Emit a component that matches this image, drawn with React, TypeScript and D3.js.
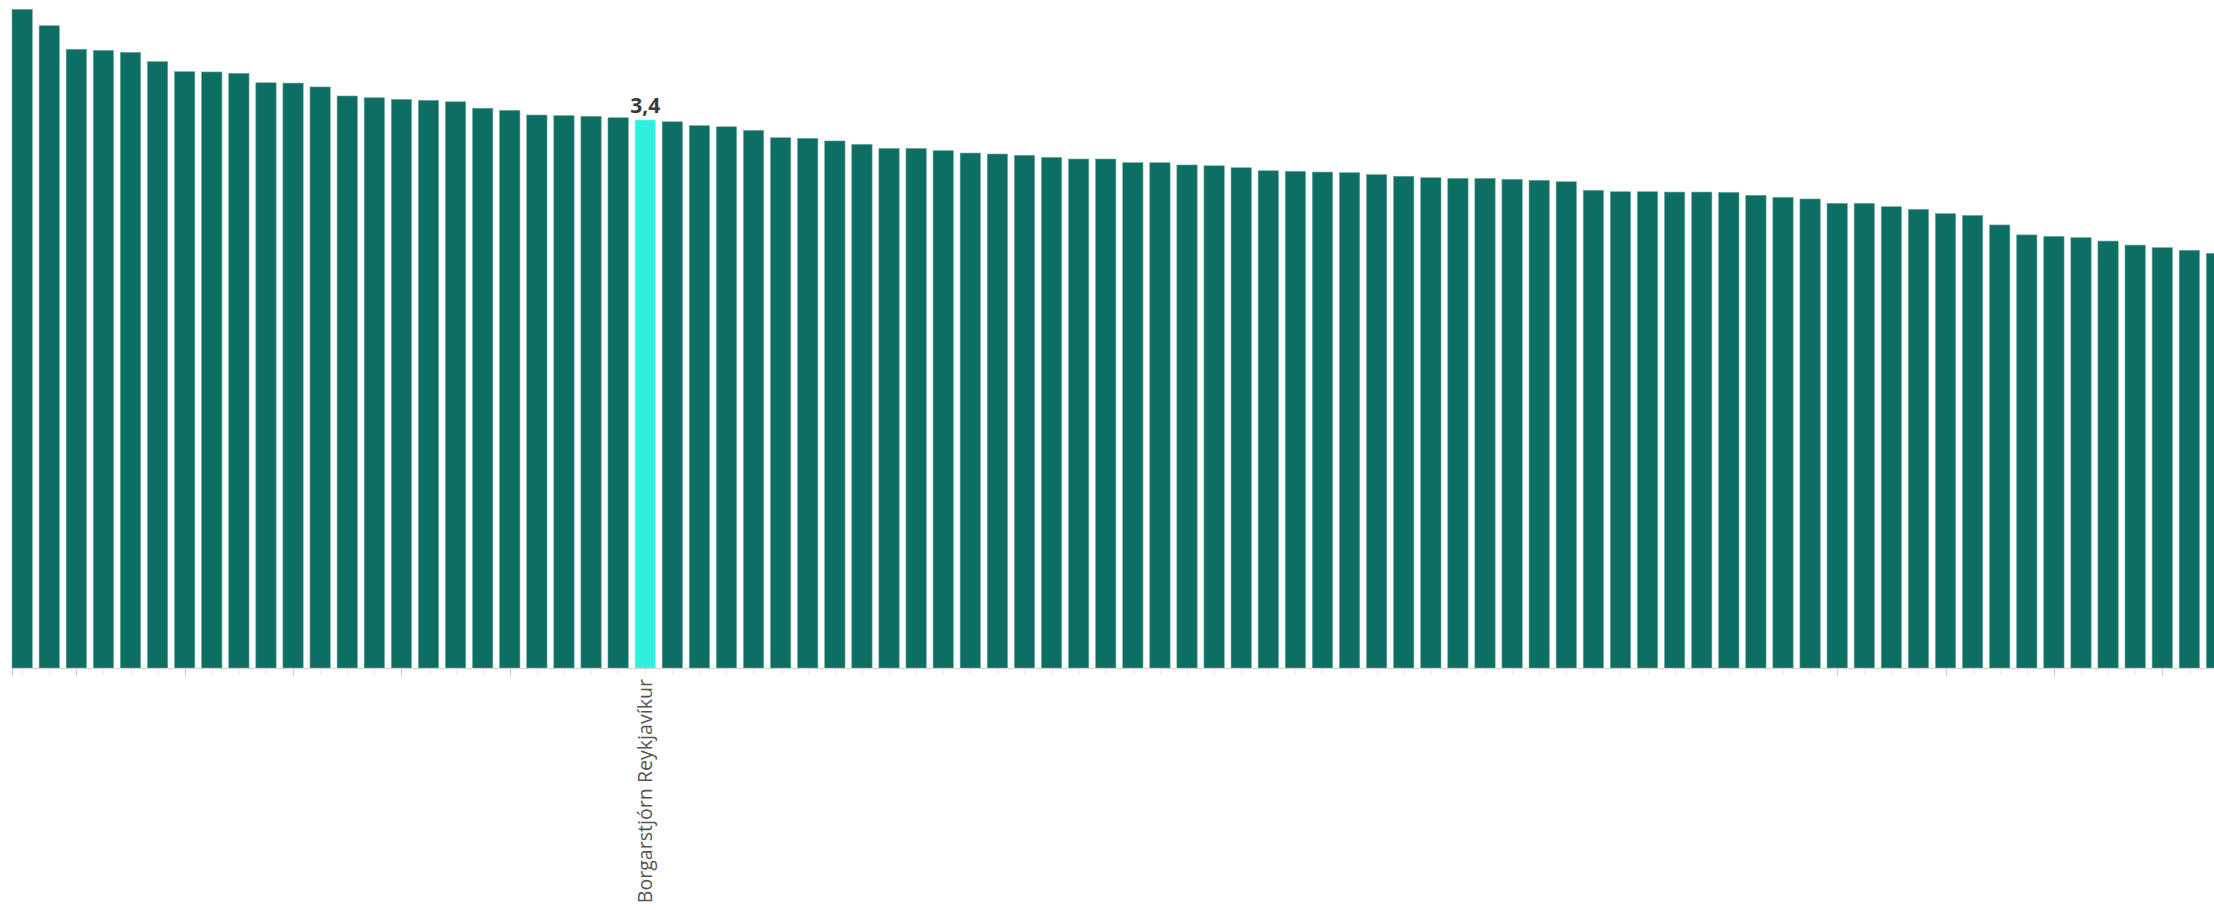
import React from "react";
import * as d3 from "d3";

const values: number[] = [
  4.087, 3.985, 3.839, 3.832, 3.82, 3.762, 3.7, 3.698, 3.69, 3.631,
  3.629, 3.605, 3.549, 3.538, 3.528, 3.522, 3.513, 3.473, 3.46, 3.431,
  3.427, 3.423, 3.414, 3.4, 3.389, 3.365, 3.358, 3.336, 3.29, 3.286,
  3.27, 3.249, 3.224, 3.224, 3.21, 3.195, 3.189, 3.181, 3.168, 3.158,
  3.158, 3.135, 3.135, 3.121, 3.116, 3.104, 3.085, 3.082, 3.077, 3.073,
  3.061, 3.051, 3.042, 3.038, 3.038, 3.032, 3.026, 3.017, 2.964, 2.955,
  2.955, 2.953, 2.953, 2.951, 2.933, 2.92, 2.91, 2.883, 2.883, 2.862,
  2.846, 2.819, 2.808, 2.749, 2.687, 2.678, 2.67, 2.649, 2.624, 2.608,
  2.592, 2.573,
];
const highlightIndex = 23;
const highlightName = "Borgarstjórn Reykjavíkur";
const highlightValueLabel = "3,4";
const majorTickIndices: number[] = [2, 6, 10, 14, 18, 67, 71, 75, 79];

const W = 2214;
const H = 910;
const X0 = 12;
const X1 = 2226.6;
const BASE = 668;
const TOP_AT_34 = 120;

export default function App() {
  const ids = values.map((_, i) => String(i));
  const x = d3.scaleBand<string>().domain(ids).range([X0, X1]).paddingInner(0.25).paddingOuter(0);
  const y = d3.scaleLinear().domain([0, 3.4]).range([BASE, TOP_AT_34]);
  const bw = x.bandwidth();
  const hx = (x(String(highlightIndex)) as number) + bw / 2;
  return (
    <svg width={W} height={H} style={{ position: "absolute", left: 0, top: 0, display: "block" }}>
      <rect x={0} y={0} width={W} height={H} fill="#fff" />
      {values.map((v, i) => (
        <rect
          key={i}
          x={x(String(i))}
          y={y(v)}
          width={bw}
          height={BASE - y(v)}
          fill={i === highlightIndex ? "#2ff0dc" : "#0d6e63"}
          stroke={i === highlightIndex ? "#8ff5ea" : "#6fa9a1"}
          strokeWidth={0.6}
        />
      ))}
      <line x1={X0} x2={W} y1={BASE + 0.5} y2={BASE + 0.5} stroke="#d2d2d2" strokeWidth={1} />
      <line x1={X0 + 0.5} x2={X0 + 0.5} y1={BASE} y2={BASE + 8} stroke="#c8c8c8" strokeWidth={1} />
      {values.map((_, i) => {
        const cx = Math.round((x(String(i)) as number) + bw / 2) + 0.5;
        const major = majorTickIndices.includes(i);
        return (
          <line
            key={"t" + i}
            x1={cx}
            x2={cx}
            y1={BASE + 1}
            y2={BASE + (major ? 8 : 6)}
            stroke={major ? "#c8c8c8" : "#e6e6e6"}
            strokeWidth={1}
          />
        );
      })}
      <text
        x={hx}
        y={y(values[highlightIndex]) - 7}
        textAnchor="middle"
        fontFamily="'Source Sans Pro', 'Open Sans', sans-serif"
        fontWeight={700}
        fontSize={21}
        fill="#3a3a3a"
      >
        {highlightValueLabel}
      </text>
      <text
        transform={`translate(${hx + 7}, ${BASE + 11}) rotate(-90)`}
        textAnchor="end"
        fontFamily="'Open Sans', sans-serif"
        fontSize={19.6}
        fill="#555"
      >
        {highlightName}
      </text>
    </svg>
  );
}
